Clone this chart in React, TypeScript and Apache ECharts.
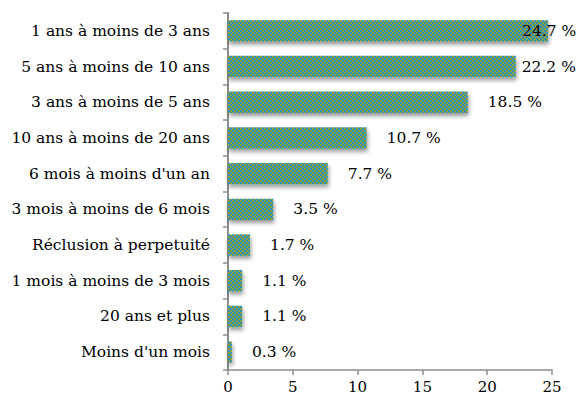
import React, { useEffect, useRef } from "react";
import * as echarts from "echarts";

const categories = [
  "Moins d'un mois",
  "20 ans et plus",
  "1 mois à moins de 3 mois",
  "Réclusion à perpetuité",
  "3 mois à moins de 6 mois",
  "6 mois à moins d'un an",
  "10 ans à moins de 20 ans",
  "3 ans à moins de 5 ans",
  "5 ans à moins de 10 ans",
  "1 ans à moins de 3 ans",
];
const values = [0.3, 1.1, 1.1, 1.7, 3.5, 7.7, 10.7, 18.5, 22.2, 24.7];
const xTicks = [0, 5, 10, 15, 20, 25];

function makePattern(): HTMLCanvasElement {
  const c = document.createElement("canvas");
  c.width = 4;
  c.height = 4;
  const ctx = c.getContext("2d")!;
  ctx.fillStyle = "#899f44";
  ctx.fillRect(0, 0, 4, 4);
  ctx.fillStyle = "#2f93b3";
  ctx.fillRect(2, 0, 2, 2);
  ctx.fillRect(0, 2, 2, 2);
  return c;
}

export default function App() {
  const ref = useRef<HTMLDivElement>(null);
  useEffect(() => {
    if (!ref.current) return;
    const chart = echarts.init(ref.current, undefined, { renderer: "svg" });
    const pattern = { image: makePattern(), repeat: "repeat" as const };
    const font = "'DejaVu Serif', serif";
    const labelShift: Record<number, number> = { 9: -46, 8: -14 };
    chart.setOption({
      animation: false,
      grid: { left: 228, right: 27, top: 13, bottom: 31, containLabel: false },
      xAxis: {
        type: "value",
        min: xTicks[0],
        max: xTicks[xTicks.length - 1],
        interval: 5,
        axisLine: { show: true, lineStyle: { color: "#8c8c8c", width: 1.5 } },
        axisTick: { show: true, length: 5, lineStyle: { color: "#8c8c8c", width: 1.5 } },
        axisLabel: { color: "#000", fontFamily: font, fontSize: 15, margin: 9 },
        splitLine: { show: false },
      },
      yAxis: {
        type: "category",
        data: categories,
        axisLine: { show: true, lineStyle: { color: "#8c8c8c", width: 2 } },
        axisTick: { show: true, length: 5, lineStyle: { color: "#8c8c8c", width: 1.5 } },
        axisLabel: { color: "#000", fontFamily: font, fontSize: 15.5, margin: 18 },
      },
      series: [
        {
          type: "bar",
          barCategoryGap: "40%",
          data: values.map((v, i) => ({
            value: v,
            label: labelShift[i] !== undefined ? { offset: [labelShift[i], 0] } : undefined,
          })),
          itemStyle: {
            color: pattern,
            shadowBlur: 4,
            shadowOffsetY: 3,
            shadowOffsetX: 1,
            shadowColor: "rgba(0,0,0,0.4)",
          },
          label: {
            show: true,
            position: "right",
            distance: 20,
            color: "#000",
            fontFamily: font,
            fontSize: 15.5,
            formatter: (p: any) => p.value.toFixed(1) + " %",
          },
        },
      ],
    });
    return () => chart.dispose();
  }, []);
  return <div ref={ref} style={{ width: 579, height: 401, position: "absolute", left: 0, top: 0 }} />;
}
